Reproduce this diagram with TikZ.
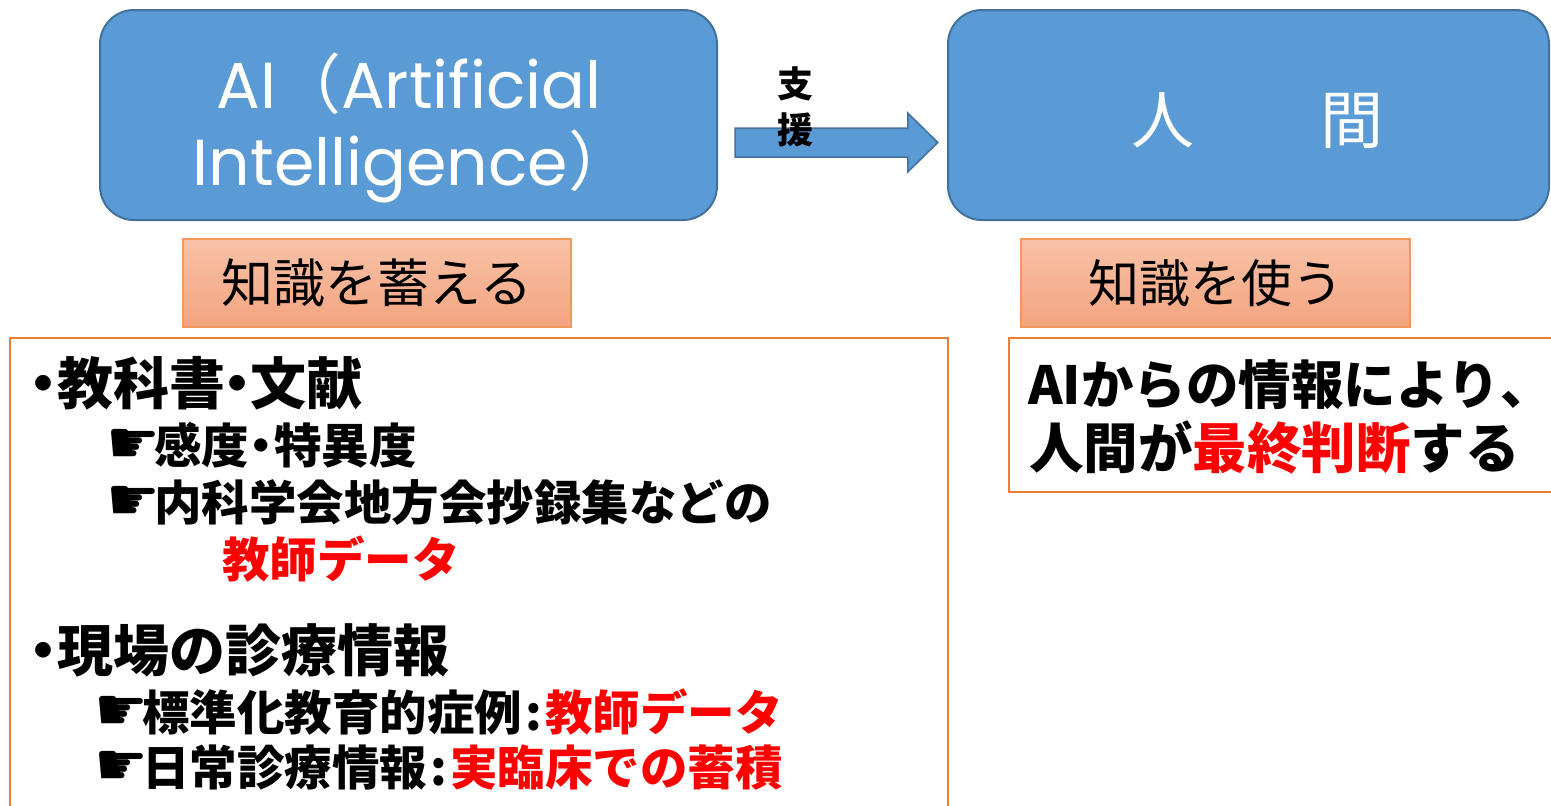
\documentclass[tikz,border=0pt]{standalone}
\usepackage{fontspec}
\usetikzlibrary{calc}
\newfontfamily\jp{Noto Sans CJK JP}
\newfontfamily\lat{Poppins}
\newfontfamily\dv{DejaVu Sans}
\definecolor{boxblue}{HTML}{5B9BD5}
\definecolor{boxblueline}{HTML}{41719C}
\definecolor{orangeline}{HTML}{ED7D31}
\definecolor{peachtop}{HTML}{F8C2A8}
\definecolor{peachbot}{HTML}{F4A47F}
\definecolor{redtext}{HTML}{FF0000}
\newcommand\nd{\makebox[27pt]{・}}
\newcommand\ndb{\makebox[25pt]{・}}
\newcommand\hand{\makebox[48pt][l]{\dv\fontsize{60}{60}\selectfont ☛}}
\newcommand\col{\makebox[23pt]{:}}
\tikzset{
  bluebox/.style={draw=boxblueline, line width=2pt, fill=boxblue, rounded corners=34pt, inner sep=0pt},
  peachbox/.style={draw=orangeline!80, line width=1.2pt, top color=peachtop, bottom color=peachbot, inner sep=0pt},
  framebox/.style={draw=orangeline, line width=2.5pt, inner sep=0pt},
  blockarrow/.style={draw=boxblueline, line width=1.5pt, fill=boxblue},
  head/.style={anchor=west, inner sep=0pt, font=\jp\bfseries\fontsize{56}{60}\selectfont},
  sub/.style={anchor=west, inner sep=0pt, font=\jp\bfseries\fontsize{47.5}{50}\selectfont},
  rtext/.style={anchor=west, inner sep=0pt, font=\jp\bfseries\fontsize{54.5}{60}\selectfont},
  latw/.style={anchor=base, inner sep=0pt, text=white, font=\lat\fontsize{65}{70}\selectfont},
}
\begin{document}
\begin{tikzpicture}[x=1pt,y=-1pt]
\useasboundingbox (0,0) rectangle (1551,806);
\clip (0,0) rectangle (1551,806);
\fill[white] (0,0) rectangle (1551,806);

% top boxes
\draw[bluebox] (100,10) rectangle (717,220);
\node[inner sep=0pt, minimum width=617pt, minimum height=210pt] (ai) at (408.5,115) {};
\draw[bluebox] (948,10) rectangle (1549,220);
\node[inner sep=0pt, minimum width=601pt, minimum height=210pt] (hu) at (1248.5,115) {};

\node[latw] (ail1) at (409,108) {AI{\jp （}Artificial};
\node[latw] (ail2) at (413,185) {Intelligence{\jp ）}};
\node[inner sep=0pt, text=white, font=\jp\fontsize{63}{70}\selectfont] (hut) at (1257,121) {人　　間};

% arrow
\coordinate (a0) at ($(ai.east)+(18,27.5)$);
\coordinate (a1) at ($(hu.west)+(-10,27.5)$);
\path[blockarrow] ($(a0)+(0,-14.5)$) -- ($(a1)+(-30,-14.5)$) -- ($(a1)+(-30,-29.5)$) -- (a1)
  -- ($(a1)+(-30,29.5)$) -- ($(a1)+(-30,14.5)$) -- ($(a0)+(0,14.5)$) -- cycle;
\node[inner sep=0pt, align=center, font=\jp\bfseries\fontsize{36}{46}\selectfont] (sup) at (795,107) {支\\援};

% peach labels
\node[peachbox, minimum width=388pt, minimum height=88pt, font=\jp\fontsize{52}{56}\selectfont] (kb1) at (377,283) {知識を蓄える};
\node[peachbox, minimum width=389pt, minimum height=88pt, font=\jp\fontsize{51}{56}\selectfont] (kb2) at (1215.5,283) {知識を使う};

% frames
\draw[framebox] (10,338) rectangle (948,830);
\draw[framebox] (1009,338) rectangle (1570,492);

% left text
\node[head] (l1) at (30,383) {\nd 教科書\ndb 文献};
\node[sub] (l2) at (106,445) {\hand 感度\ndb 特異度};
\node[sub] (l3) at (106,503) {\hand 内科学会地方会抄録集などの};
\node[sub, text=redtext] (l4) at (222,559) {教師データ};
\node[head] (l5) at (30,650) {\nd 現場の診療情報};
\node[sub] (l6) at (94,712) {\hand 標準化教育的症例\col\textcolor{redtext}{教師データ}};
\node[sub] (l7) at (94,768) {\hand 日常診療情報\col\textcolor{redtext}{実臨床での蓄積}};

% right text
\node[rtext, font=\jp\bfseries\fontsize{52.5}{60}\selectfont] (r1) at (1028,385) {AIからの情報により\makebox[18pt][l]{、}};
\node[rtext] (r2) at (1029,447) {人間が\textcolor{redtext}{最終判断}する};
\end{tikzpicture}
\end{document}
